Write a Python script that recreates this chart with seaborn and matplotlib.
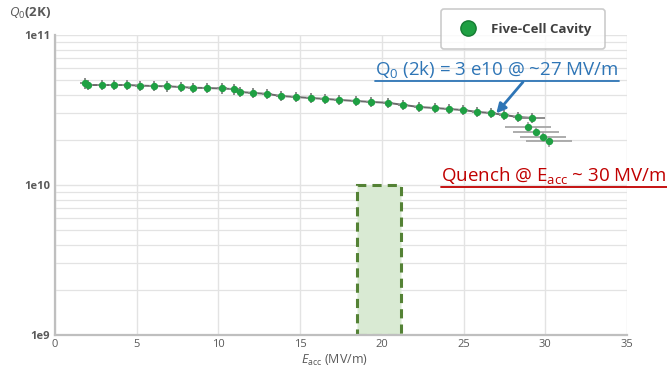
import matplotlib
matplotlib.use("Agg")
import matplotlib.pyplot as plt
from matplotlib.patches import Rectangle
from matplotlib.lines import Line2D
import numpy as np
import pandas as pd
import seaborn as sns

# Accelerating gradient (MV/m) and unloaded quality factor at 2 K
e_acc = [1.84, 2.02, 2.88, 3.61, 4.41, 5.20, 6.06, 6.85, 7.71, 8.45, 9.30, 10.22,
         10.95, 11.32, 12.12, 12.97, 13.83, 14.75, 15.67, 16.52, 17.40, 18.42,
         19.34, 20.38, 21.30, 22.28, 23.26, 24.11, 24.97, 25.83, 26.68, 27.48,
         28.34, 29.19]
q0 = [4.75e10, 4.64e10, 4.64e10, 4.64e10, 4.64e10, 4.60e10, 4.57e10, 4.55e10,
      4.50e10, 4.45e10, 4.43e10, 4.40e10, 4.36e10, 4.17e10, 4.11e10, 4.05e10,
      3.92e10, 3.86e10, 3.80e10, 3.75e10, 3.69e10, 3.63e10, 3.58e10, 3.53e10,
      3.42e10, 3.31e10, 3.26e10, 3.21e10, 3.16e10, 3.07e10, 3.02e10, 2.93e10,
      2.84e10, 2.80e10]
e_err = [0.3] * 33 + [0.8]

# Points recorded at the quench
e_quench = [28.95, 29.44, 29.87, 30.23]
q_quench = [2.44e10, 2.26e10, 2.09e10, 1.96e10]
e_quench_err = [1.4, 1.4, 1.4, 1.4]

q_rel_err = 0.08

# Shaded target window
box_e = [18.5, 21.2]
box_q = [1e9, 1.0e10]

x_ticks = [0, 5, 10, 15, 20, 25, 30, 35]
y_ticks = [1e9, 1e10, 1e11]
y_ticklabels = ["1e9", "1e10", "1e11"]

series_name = "Five-Cell Cavity"

sns.set_theme(style="white")
plt.rcParams["font.family"] = ["Open Sans", "DejaVu Sans"]
plt.rcParams["mathtext.fontset"] = "custom"
plt.rcParams["mathtext.rm"] = "Open Sans"
plt.rcParams["mathtext.it"] = "Open Sans:italic"

fig = plt.figure(figsize=(6.67, 3.77), dpi=100)
ax = fig.add_axes([55 / 667, 42 / 377, 572 / 667, 300 / 377])

grid_c = "#e3e3e3"
ax.set_yscale("log")
ax.set_xlim(0, 35)
ax.set_ylim(1e9, 1e11)
ax.set_xticks(x_ticks)
ax.set_yticks(y_ticks)
ax.set_yticklabels(y_ticklabels)
ax.grid(True, which="major", color=grid_c, lw=1.0)
ax.grid(True, which="minor", axis="y", color=grid_c, lw=0.9)
ax.set_axisbelow(True)
for s in ["top", "right"]:
    ax.spines[s].set_visible(False)
ax.spines["left"].set_color("#bfbfbf")
ax.spines["left"].set_linewidth(1.6)
ax.spines["bottom"].set_color("#bfbfbf")
ax.spines["bottom"].set_linewidth(1.6)
ax.tick_params(axis="both", which="both", length=0, colors="#595959", labelsize=8)
ax.tick_params(axis="x", pad=3)
for lab in ax.get_yticklabels():
    lab.set_fontweight("bold")
ax.yaxis.set_minor_formatter(matplotlib.ticker.NullFormatter())

# target window
ax.add_patch(Rectangle((box_e[0], box_q[0]), box_e[1] - box_e[0], box_q[1] - box_q[0],
                       facecolor="#d9ead3", edgecolor="#548235", lw=2.2,
                       linestyle=(0, (3, 2)), zorder=1.5))

df = pd.DataFrame({"E": e_acc, "Q": q0})
dq = pd.DataFrame({"E": e_quench, "Q": q_quench})

sns.lineplot(data=df, x="E", y="Q", ax=ax, color="#6a6a6a", lw=1.4, zorder=2,
             legend=False)
ax.errorbar(e_acc, q0, xerr=e_err,
            yerr=[np.array(q0) * q_rel_err, np.array(q0) * q_rel_err],
            fmt="none", ecolor="#8c8c8c", elinewidth=1.4, zorder=2)
ax.errorbar(e_quench, q_quench, xerr=e_quench_err,
            yerr=[np.array(q_quench) * q_rel_err, np.array(q_quench) * q_rel_err],
            fmt="none", ecolor="#a6a6a6", elinewidth=1.3, zorder=2)
green = "#1fa043"
sns.scatterplot(data=df, x="E", y="Q", ax=ax, color=green, s=28, edgecolor=green,
                linewidth=0, zorder=3, legend=False)
sns.scatterplot(data=dq, x="E", y="Q", ax=ax, color=green, s=28, edgecolor=green,
                linewidth=0, zorder=3, legend=False)

ax.set_xlabel("")
ax.set_ylabel("")

fig.text(335 / 667, 1 - 360 / 377, r"$E_{\mathrm{acc}}$ (MV/m)", ha="center",
         va="center", fontsize=9, color="#595959")
fig.text(30 / 667, 1 - 13 / 377, r"$Q_0$(2K)", ha="center", va="center",
         fontsize=9.5, color="#595959", fontweight="bold")

# legend box
handle = Line2D([], [], marker="o", color="none", markerfacecolor=green,
                markeredgecolor="#157a32", markersize=11)
leg = fig.legend([handle], [series_name], loc="center",
                 bbox_to_anchor=(523 / 667, 1 - 29 / 377), frameon=True,
                 fancybox=True, fontsize=9.5, borderpad=1.0, handletextpad=0.8,
                 borderaxespad=0, labelcolor="#404040", edgecolor="#bfbfbf")
leg.get_frame().set_linewidth(1.2)
for t in leg.get_texts():
    t.set_fontweight("bold")

# annotations
blue = "#2e75b6"
red = "#c00000"
t1 = fig.text(375 / 667, 1 - 69 / 377, r"Q$_0$ (2k) = 3 e10 @ ~27 MV/m",
              ha="left", va="center", fontsize=13.5, color=blue)
t2 = fig.text(441 / 667, 1 - 175 / 377, r"Quench @ E$_{\mathrm{acc}}$ ~ 30 MV/m",
              ha="left", va="center", fontsize=13.5, color=red)

ax.annotate("", xy=(27.0, 3.0e10), xycoords="data",
            xytext=(523 / 667, 1 - 82 / 377), textcoords="figure fraction",
            arrowprops=dict(arrowstyle="-|>", color=blue, lw=2.0,
                            mutation_scale=14, shrinkA=0, shrinkB=0))

fig.canvas.draw()
renderer = fig.canvas.get_renderer()
for t, c, yline in [(t1, blue, 81), (t2, red, 187)]:
    bb = t.get_window_extent(renderer)
    x0, x1 = bb.x0 / fig.bbox.width, bb.x1 / fig.bbox.width
    fig.add_artist(Line2D([x0, x1], [1 - yline / 377, 1 - yline / 377],
                          color=c, lw=1.3, transform=fig.transFigure))

fig.savefig("out.png", dpi=100)
